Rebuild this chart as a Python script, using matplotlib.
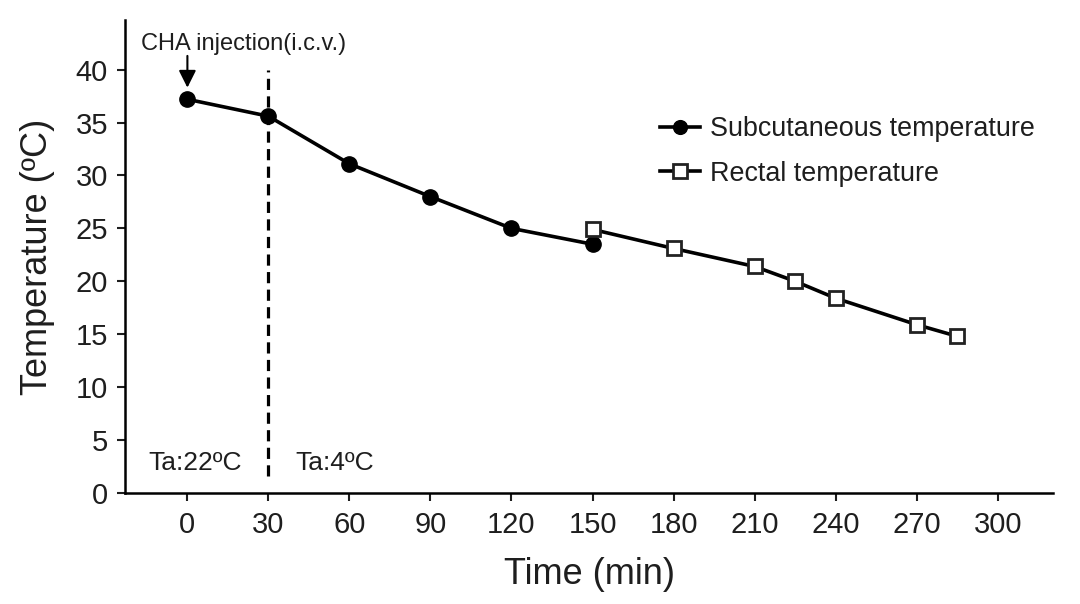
import matplotlib
matplotlib.use("Agg")
import matplotlib.pyplot as plt

# Data
sub_time = [0, 30, 60, 90, 120, 150]
sub_temp = [37.2, 35.6, 31.1, 28.0, 25.0, 23.5]
rect_time = [150, 180, 210, 225, 240, 270, 285]
rect_temp = [24.9, 23.1, 21.4, 20.0, 18.4, 15.9, 14.8]
x_ticks = [0, 30, 60, 90, 120, 150, 180, 210, 240, 270, 300]
y_ticks = [0, 5, 10, 15, 20, 25, 30, 35, 40]

plt.rcParams['font.family'] = ['Liberation Sans', 'DejaVu Sans']
ink = '#1e1e1e'

fig = plt.figure(figsize=(10.8, 6.04), dpi=100)
ax = fig.add_axes([0.116, 0.184, 0.859, 0.783])

ax.plot(sub_time, sub_temp, color='black', lw=2.6, marker='o', ms=11,
        mfc='black', mec='black', label='Subcutaneous temperature', zorder=3)
ax.plot(rect_time, rect_temp, color='black', lw=2.6, marker='s', ms=10.5,
        mfc='white', mec='#222222', mew=2, label='Rectal temperature', zorder=3)

# dashed line marking the change of ambient temperature
ax.plot([30, 30], [1.6, 40], color='black', ls=(0, (3.5, 2)), lw=2.3, zorder=2)

ax.text(-14.5, 2.8, 'Ta:22ºC', fontsize=19, va='center', ha='left', color=ink)
ax.text(40, 2.8, 'Ta:4ºC', fontsize=19, va='center', ha='left', color=ink)

# injection arrow and label
ax.text(-17, 42.4, 'CHA injection(i.c.v.)', fontsize=17, ha='left',
        va='center', color=ink)
ax.annotate('', xy=(0, 38.3), xytext=(0, 41.3),
            arrowprops=dict(arrowstyle='-|>', color='black', lw=1.5,
                            shrinkA=0, shrinkB=0, mutation_scale=26))

ax.set_xlim(-23, 320.5)
ax.set_ylim(0, 44.7)
ax.set_xticks(x_ticks)
ax.set_yticks(y_ticks)
ax.tick_params(axis='both', direction='out', length=6, width=1.5,
               labelsize=21, colors=ink)
ax.tick_params(axis='x', pad=7)
ax.tick_params(axis='y', pad=6.5)
ax.spines['top'].set_visible(False)
ax.spines['right'].set_visible(False)
ax.spines['left'].set_linewidth(1.8)
ax.spines['bottom'].set_linewidth(1.8)

ax.set_xlabel('Time (min)', fontsize=26, color=ink, labelpad=13)
ax.set_ylabel('Temperature (ºC)', fontsize=26, color=ink, labelpad=15)

leg = ax.legend(loc='upper left', bbox_to_anchor=(0.576, 0.797), frameon=False,
                fontsize=19.4, handlelength=1.5, handletextpad=0.37,
                labelspacing=0.7, borderpad=0, borderaxespad=0,
                markerscale=0.9)
for t in leg.get_texts():
    t.set_color(ink)

fig.savefig('out.png', dpi=100)
